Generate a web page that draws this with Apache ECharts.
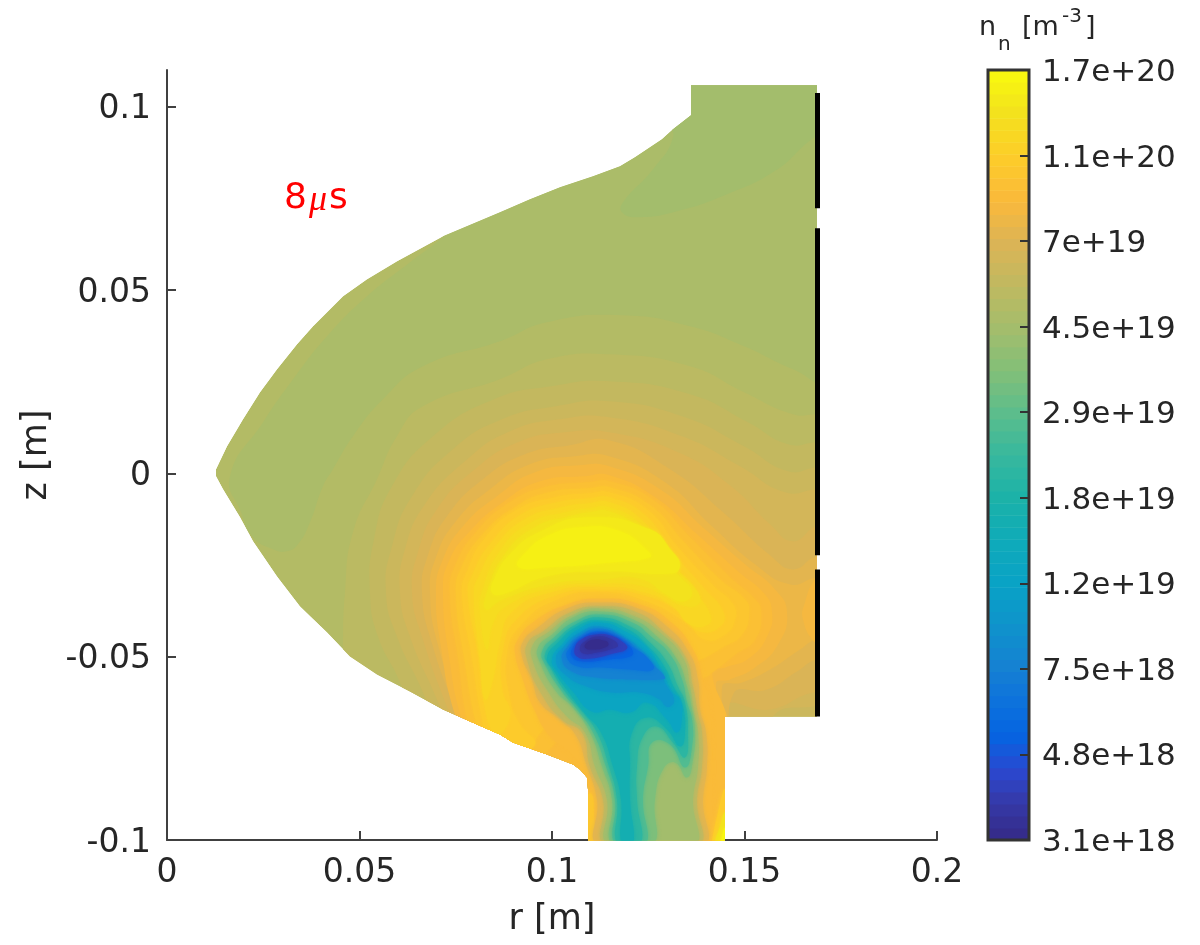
<!DOCTYPE html>
<html>
<head>
<meta charset="utf-8">
<title>n_n contour</title>
<script src="https://cdn.jsdelivr.net/npm/echarts@6/dist/echarts.min.js"></script>
<style>
  html, body { margin: 0; background: #fff; }
  #chart { width: 1200px; height: 945px; }
</style>
</head>
<body>
<div id="chart"></div>
<script>
// axis ticks
const rTicks = [0, 0.05, 0.1, 0.15, 0.2];
const zTicks = [-0.1, -0.05, 0, 0.05, 0.1];
const cbarLabels = ['3.1e+18', '4.8e+18', '7.5e+18', '1.2e+19', '1.8e+19', '2.9e+19', '4.5e+19', '7e+19', '1.1e+20', '1.7e+20'];

// digitised outline and contours, as [r, z] in digitiser steps
const rStep = 1 / 3850; // m per step
const zStep = 1 / 3665; // m per step

const domain = [[524,388],[650,388],[650,-243],[558,-243],[558,-367],[421,-367],[421,-316],[420,-304],[413,-296],[406,-291],[380,-281],[346,-269],[333,-261],[310,-251],[276,-236],[243,-218],[210,-201],[183,-183],[160,-159],[133,-133],[110,-103],[86,-68],[73,-44],[56,-16],[49,-3],[49,4],[60,27],[76,54],[93,81],[110,104],[130,129],[146,147],[176,177],[200,194],[230,212],[276,237],[333,261],[363,274],[393,286],[426,297],[453,307],[468,316],[483,326],[495,334],[506,344],[524,358]];

const upper43 = [[663,404],[513,404],[393,304],[300,260],[273,234],[243,211],[200,177],[160,137],[126,94],[96,51],[63,-3],[74,-39],[86,-64],[106,-76],[120,-78],[131,-71],[143,-49],[156,-13],[166,4],[186,37],[216,74],[256,107],[333,132],[380,151],[454,158],[523,147],[577,127],[626,104],[663,92]];
const patch42 = [[663,357],[633,324],[606,301],[560,279],[510,262],[470,256],[455,261],[456,271],[486,304],[506,336],[501,354],[513,404],[663,404]];

const c45 = [[178,-119],[186,-59],[210,-6],[230,37],[256,67],[333,94],[380,114],[442,119],[523,107],[577,81],[626,59],[650,59],[678,59],[678,-406],[173,-406],[176,-176]];
const c46 = [[203,-119],[207,-66],[225,-13],[266,37],[327,74],[384,87],[442,92],[523,79],[581,51],[621,29],[650,31],[678,31],[678,-406],[245,-406],[245,-250],[233,-209],[211,-163]];
const c47 = [[219,-119],[225,-73],[245,-23],[286,24],[335,54],[389,67],[442,72],[515,57],[577,27],[621,2],[650,6],[678,6],[678,-406],[270,-406],[270,-260],[256,-219],[230,-163]];
const c48 = [[233,-119],[238,-76],[258,-31],[298,12],[343,42],[393,54],[442,56],[515,37],[573,7],[618,-19],[650,-16],[678,-16],[678,-233],[646,-233],[606,-243],[603,-286],[603,-406],[285,-406],[285,-265],[270,-226],[243,-163]];
const c49 = [[245,-119],[251,-79],[270,-36],[308,4],[351,31],[398,41],[442,41],[511,21],[564,-13],[603,-51],[626,-68],[650,-53],[678,-53],[678,-219],[646,-219],[603,-236],[558,-233],[568,-286],[568,-406],[295,-406],[295,-270],[281,-236],[255,-163]];
const c50 = [[255,-119],[261,-82],[280,-43],[316,-6],[358,19],[403,28],[442,33],[503,4],[556,-39],[603,-82],[626,-96],[650,-83],[678,-83],[678,-186],[650,-186],[630,-198],[600,-216],[566,-221],[568,-286],[568,-406],[303,-406],[303,-272],[290,-240],[265,-170]];
const c51 = [[263,-119],[269,-84],[289,-48],[323,-16],[363,9],[408,17],[442,17],[498,-9],[545,-53],[588,-91],[623,-111],[650,-104],[678,-104],[678,-166],[650,-166],[633,-176],[603,-196],[575,-209],[555,-214],[568,-286],[568,-406],[309,-406],[309,-272],[296,-243],[272,-175]];
const c52 = [[269,-119],[276,-86],[296,-53],[330,-23],[368,1],[413,8],[442,7],[493,-16],[538,-56],[578,-91],[608,-116],[620,-139],[611,-171],[588,-194],[563,-206],[549,-211],[563,-286],[563,-406],[300,-406],[300,-272],[286,-235],[275,-180]];
const edge52 = [[658,-101],[648,-106],[638,-129],[636,-146],[648,-169],[658,-171]];
const c53 = [[276,-119],[282,-88],[303,-58],[336,-29],[373,-8],[418,-3],[442,-2],[488,-24],[530,-61],[571,-98],[598,-121],[605,-139],[601,-161],[583,-184],[558,-194],[545,-198],[561,-246],[568,-286],[568,-406],[306,-406],[306,-275],[293,-240],[283,-189]];
const c54 = [[283,-119],[289,-91],[310,-58],[343,-29],[378,-14],[423,-9],[442,-8],[485,-26],[523,-64],[563,-104],[588,-126],[594,-139],[588,-166],[568,-181],[549,-196],[533,-206],[453,-226],[393,-266],[363,-288],[310,-275],[300,-245],[292,-190]];
const c55 = [[289,-119],[295,-93],[316,-61],[348,-34],[383,-19],[423,-15],[442,-14],[483,-32],[517,-69],[553,-106],[578,-126],[582,-139],[575,-161],[555,-174],[533,-186],[453,-216],[383,-251],[351,-281],[316,-270],[308,-245],[299,-195]];
const c56 = [[295,-119],[301,-96],[317,-66],[349,-37],[388,-24],[423,-20],[442,-19],[481,-37],[511,-74],[545,-111],[566,-131],[568,-146],[558,-161],[538,-166],[520,-150],[480,-128],[433,-118],[390,-126],[355,-150],[340,-180],[343,-226],[353,-251],[368,-271],[340,-278],[322,-266],[314,-240],[306,-190]];
const c57 = [[301,-119],[307,-98],[323,-71],[353,-42],[391,-29],[423,-25],[442,-24],[478,-42],[505,-78],[538,-116],[555,-136],[555,-151],[533,-158],[512,-138],[478,-122],[433,-116],[388,-122],[350,-145],[336,-175],[335,-216],[343,-241],[330,-264],[325,-258],[318,-235],[312,-185]];
const c58 = [[307,-119],[313,-101],[328,-74],[358,-46],[395,-34],[423,-30],[442,-29],[475,-47],[499,-81],[530,-121],[543,-141],[541,-151],[523,-151],[505,-132],[475,-118],[433,-113],[386,-118],[345,-138],[333,-168],[326,-206],[318,-226],[313,-185]];
const c59 = [[313,-136],[315,-119],[333,-78],[363,-50],[399,-39],[423,-35],[442,-34],[473,-51],[495,-84],[529,-116],[531,-131],[513,-131],[497,-122],[473,-112],[433,-110],[386,-114],[340,-132],[326,-150],[320,-176]];
const c60 = [[319,-136],[320,-119],[338,-81],[368,-54],[403,-43],[423,-39],[442,-38],[471,-55],[491,-86],[515,-105],[525,-120],[515,-128],[501,-122],[473,-105],[433,-106],[386,-110],[335,-126]];
const c61 = [[325,-119],[327,-106],[343,-81],[372,-59],[421,-44],[483,-56],[505,-78],[513,-92],[505,-100],[442,-98],[380,-103],[335,-121]];
const c62 = [[351,-93],[360,-78],[380,-63],[413,-54],[453,-58],[481,-78],[483,-84],[446,-89],[380,-94]];

const h53 = [[433,-125],[400,-131],[366,-149],[351,-166],[348,-179],[356,-206],[366,-233],[383,-263],[403,-279],[420,-303],[421,-373],[541,-373],[545,-326],[545,-293],[545,-273],[543,-239],[536,-206],[526,-176],[503,-148],[473,-131]];
const wall55 = [[415,-335],[424,-320],[427,-345],[426,-375],[415,-375]];
const h50 = [[433,-129],[400,-135],[371,-154],[356,-168],[355,-183],[365,-206],[373,-229],[393,-246],[409,-262],[419,-290],[430,-326],[433,-373],[535,-373],[536,-326],[540,-293],[539,-259],[533,-236],[531,-206],[522,-179],[500,-153],[471,-135]];
const h46 = [[433,-133],[403,-139],[376,-158],[361,-169],[360,-186],[376,-223],[396,-247],[415,-259],[423,-293],[436,-326],[440,-373],[530,-373],[530,-326],[535,-293],[535,-259],[531,-240],[526,-213],[518,-183],[496,-158],[470,-139]];
const h42 = [[433,-135],[405,-142],[381,-159],[366,-171],[366,-188],[383,-221],[400,-243],[418,-259],[428,-293],[440,-326],[443,-373],[526,-373],[526,-326],[531,-293],[531,-259],[527,-240],[523,-213],[516,-184],[493,-159],[468,-143]];
const h38 = [[433,-138],[406,-144],[385,-161],[371,-174],[373,-189],[390,-219],[405,-233],[423,-259],[435,-293],[445,-326],[446,-373],[485,-373],[488,-326],[496,-296],[508,-289],[520,-304],[526,-286],[528,-259],[525,-236],[520,-213],[510,-186],[490,-163],[466,-146]];
const h34 = [[433,-141],[408,-148],[388,-163],[375,-178],[378,-191],[395,-218],[410,-236],[426,-259],[439,-293],[448,-326],[449,-373],[478,-373],[476,-326],[481,-293],[485,-269],[503,-271],[518,-294],[525,-273],[525,-246],[520,-229],[515,-206],[503,-181],[485,-164],[465,-149]];
const h30 = [[433,-144],[409,-151],[390,-166],[378,-181],[383,-193],[398,-218],[415,-238],[430,-259],[442,-293],[450,-326],[451,-373],[473,-373],[470,-326],[470,-293],[476,-263],[490,-253],[506,-269],[518,-284],[521,-259],[518,-229],[511,-213],[500,-189],[483,-169],[463,-153]];
const h26 = [[433,-147],[410,-153],[391,-169],[380,-184],[386,-196],[401,-218],[418,-240],[434,-259],[446,-293],[454,-326],[455,-373],[466,-373],[463,-326],[463,-293],[465,-259],[480,-244],[500,-256],[513,-273],[518,-259],[515,-229],[508,-216],[496,-191],[481,-173],[461,-156]];
const h22 = [[433,-149],[411,-156],[395,-171],[385,-186],[391,-199],[406,-218],[425,-238],[443,-236],[463,-239],[480,-229],[500,-246],[510,-259],[515,-243],[513,-226],[505,-218],[493,-194],[480,-174],[460,-159]];
const h18 = [[433,-153],[413,-159],[397,-173],[389,-186],[398,-201],[420,-213],[446,-219],[473,-219],[493,-226],[498,-232],[503,-233],[507,-226],[500,-213],[490,-196],[476,-178],[456,-163]];
const h14 = [[433,-155],[415,-161],[400,-174],[395,-186],[405,-198],[430,-204],[463,-206],[493,-206],[498,-204],[486,-191],[473,-178],[455,-164]];
const h11 = [[433,-158],[416,-163],[403,-174],[400,-184],[411,-193],[436,-194],[463,-196],[486,-196],[480,-184],[466,-174],[451,-164]];
const h8 = [[431,-159],[416,-164],[406,-174],[405,-183],[416,-188],[440,-186],[463,-183],[466,-178],[458,-169],[448,-163]];
const h4 = [[430,-161],[416,-165],[408,-174],[410,-183],[423,-185],[446,-180],[460,-175],[455,-168],[443,-162]];
const h2 = [[430,-163],[418,-168],[413,-174],[416,-180],[430,-179],[446,-175],[451,-172],[445,-166]];
const h0 = [[428,-166],[420,-169],[418,-174],[426,-176],[440,-173],[441,-169],[436,-167]];

const corner56 = [[558,-316],[551,-339],[545,-368],[545,-372],[559,-372]];
const corner60 = [[558,-339],[552,-356],[548,-368],[548,-372],[559,-372]];
const corner63 = [[558,-354],[554,-368],[554,-372],[559,-372]];

// painted in this order, each one over the previous; level = colormap band 0..63
const contourPaths = [domain, upper43, patch42, c45, c46, c47, c48, c49, c50, c51, c52, edge52, c53, c54, c55, c56, c57, c58, c59, c60, c61, c62,
  h53, wall55, h50, h46, h42, h38, h34, h30, h26, h22, h18, h14, h11, h8, h4, h2, h0, corner56, corner60, corner63];
const contourLevels = [44, 43, 42, 45, 46, 47, 48, 49, 50, 51, 52, 52, 53, 54, 55, 56, 57, 58, 59, 60, 61, 62,
  53, 55, 50, 46, 42, 38, 34, 30, 26, 22, 18, 14, 11, 8, 4, 2, 0, 56, 60, 63];
const firstYellowContour = contourPaths.indexOf(c54);
const firstSteepContour = contourPaths.indexOf(h53);

// black wall on the right, with its two gaps
const wallR = [0.16896, 0.16896, null, 0.16896, 0.16896, null, 0.16896, 0.16896];
const wallZ = [0.1037, 0.0723, null, 0.06685, -0.02237, null, -0.0262, -0.0663];

// colormap stops, position 0..1 from bottom
const cmapPos = [0, 0.05, 0.09, 0.136, 0.18, 0.222, 0.27, 0.332, 0.39, 0.444, 0.506, 0.555, 0.61, 0.666, 0.72, 0.777, 0.83, 0.888, 0.948, 1];
const cmapColors = ['#352a87', '#3539a8', '#2b48cf', '#0564e1', '#0d72dc', '#1580d3', '#1090cc', '#09a2c6', '#0fabb9', '#1bb2a8', '#3bb99c', '#5cbd8c', '#83bf78', '#a4bd6c', '#c0b960', '#dcb455', '#fab93b', '#fdcd29', '#f3e31c', '#f9fb0e'];
const bandCount = 64;

const palette = [];
for (let i = 0; i < bandCount; i++) {
  const t = (i + 0.5) / bandCount;
  let k = 0;
  while (k < cmapPos.length - 2 && t > cmapPos[k + 1]) k++;
  const f = (t - cmapPos[k]) / (cmapPos[k + 1] - cmapPos[k]);
  const a = echarts.color.parse(cmapColors[k]);
  const b = echarts.color.parse(cmapColors[k + 1]);
  palette.push('rgb(' + [0, 1, 2].map((c) => Math.round(a[c] + (b[c] - a[c]) * f)).join(',') + ')');
}

const fontFamily = 'DejaVu Sans';
const textColor = '#262626';
const axisColor = '#404040';

const toCoord = (api, p) => api.coord([p[0] * rStep, p[1] * zStep]);

const renderContour = (params, api) => {
  const i = api.value(0);
  const fill = palette[contourLevels[i]];
  const style = { fill: fill };
  // few levels around the peak and on the steep rim, soften their edges
  if (i >= firstYellowContour) {
    style.shadowBlur = i >= firstSteepContour ? 4 : 3;
    style.shadowColor = fill;
  }
  return {
    type: 'polygon',
    shape: { points: contourPaths[i].map((p) => toCoord(api, p)), smooth: i === 0 ? 0 : 0.5 },
    style: style,
    clipPath: { type: 'polygon', shape: { points: domain.map((p) => toCoord(api, p)) } },
  };
};

const renderBand = (params, api) => {
  const i = api.value(0);
  const span = cbarLabels.length - 1;
  const a = api.coord([0, (i * span) / bandCount]);
  const b = api.coord([1, ((i + 1) * span) / bandCount]);
  return {
    type: 'rect',
    shape: { x: a[0], y: b[1], width: b[0] - a[0], height: a[1] - b[1] + 0.5 },
    style: { fill: palette[i] },
  };
};

const renderFrame = (params, api) => {
  const a = api.coord([0, 0]);
  const b = api.coord([1, cbarLabels.length - 1]);
  return {
    type: 'rect',
    shape: { x: a[0], y: b[1], width: b[0] - a[0], height: a[1] - b[1] },
    style: { fill: 'none', stroke: '#333333', lineWidth: 3 },
  };
};

const chart = echarts.init(document.getElementById('chart'), null, { renderer: 'canvas' });

const text = (x, y, str, size, extra) => ({
  type: 'text',
  x: x,
  y: y,
  style: Object.assign({ text: str, font: size + 'px "' + fontFamily + '"', fill: textColor, verticalAlign: 'middle' }, extra),
});

chart.setOption({
  animation: false,
  backgroundColor: '#fff',
  grid: [
    { left: 167, top: 70, width: 770, height: 770 },
    { left: 988, top: 70, width: 41, height: 770 },
  ],
  xAxis: [
    {
      gridIndex: 0,
      type: 'value',
      min: 0,
      max: 0.2,
      interval: 0.05,
      name: 'r [m]',
      nameLocation: 'middle',
      nameGap: 62,
      nameTextStyle: { fontFamily, fontSize: 35, color: textColor },
      splitLine: { show: false },
      axisLine: { onZero: false, lineStyle: { color: axisColor, width: 2 } },
      axisTick: { inside: true, length: 9, customValues: rTicks, lineStyle: { color: axisColor, width: 2 } },
      axisLabel: { fontFamily, fontSize: 33, color: textColor, margin: 17, customValues: rTicks },
    },
    { gridIndex: 1, type: 'value', min: 0, max: 1, show: false },
  ],
  yAxis: [
    {
      gridIndex: 0,
      type: 'value',
      min: -0.1,
      max: 0.11,
      interval: 0.05,
      name: 'z [m]',
      nameLocation: 'middle',
      nameGap: 112,
      nameTextStyle: { fontFamily, fontSize: 35, color: textColor },
      splitLine: { show: false },
      axisLine: { onZero: false, lineStyle: { color: axisColor, width: 2 } },
      axisTick: { inside: true, length: 9, customValues: zTicks, lineStyle: { color: axisColor, width: 2 } },
      axisLabel: {
        margin: 16,
        customValues: zTicks,
        formatter: (v) => '{t|' + v + '}',
        rich: { t: { fontFamily, fontSize: 33, color: textColor, padding: [6, 0, 0, 0] } },
      },
    },
    {
      gridIndex: 1,
      type: 'value',
      position: 'right',
      min: 0,
      max: cbarLabels.length - 1,
      interval: 1,
      z: 5,
      splitLine: { show: false },
      axisLine: { show: false, onZero: false },
      axisTick: { inside: true, length: 9, lineStyle: { color: '#333333', width: 2 } },
      axisLabel: {
        margin: 13,
        formatter: (v) => '{t|' + cbarLabels[v] + '}',
        rich: { t: { fontFamily, fontSize: 31, color: textColor, padding: [6, 0, 0, 0] } },
      },
    },
  ],
  series: [
    {
      name: 'n_n',
      type: 'custom',
      xAxisIndex: 0,
      yAxisIndex: 0,
      clip: false,
      silent: true,
      renderItem: renderContour,
      encode: { x: -1, y: -1 },
      data: contourPaths.map((p, i) => [i]),
    },
    {
      name: 'wall',
      type: 'line',
      xAxisIndex: 0,
      yAxisIndex: 0,
      symbol: 'none',
      silent: true,
      z: 3,
      lineStyle: { color: '#000', width: 5, cap: 'butt' },
      data: wallR.map((r, i) => (r === null ? ['-', '-'] : [r, wallZ[i]])),
    },
    {
      name: 'colorbar',
      type: 'custom',
      xAxisIndex: 1,
      yAxisIndex: 1,
      silent: true,
      renderItem: renderBand,
      encode: { x: -1, y: -1 },
      data: palette.map((c, i) => [i]),
    },
    {
      name: 'colorbar frame',
      type: 'custom',
      xAxisIndex: 1,
      yAxisIndex: 1,
      silent: true,
      clip: false,
      z: 3,
      renderItem: renderFrame,
      encode: { x: -1, y: -1 },
      data: [[0]],
    },
  ],
  graphic: [
    text(284, 199, '8', 36, { fill: '#ff0000' }),
    text(309, 201, 'μ', 36, { fill: '#ff0000', font: 'italic 36px "Liberation Serif"' }),
    text(329, 199, 's', 36, { fill: '#ff0000' }),
    text(979, 28, 'n', 27),
    text(998, 45, 'n', 20),
    text(1022, 28, '[m', 27),
    text(1062, 17, '-3', 20),
    text(1085, 28, ']', 27),
  ],
});
</script>
</body>
</html>
